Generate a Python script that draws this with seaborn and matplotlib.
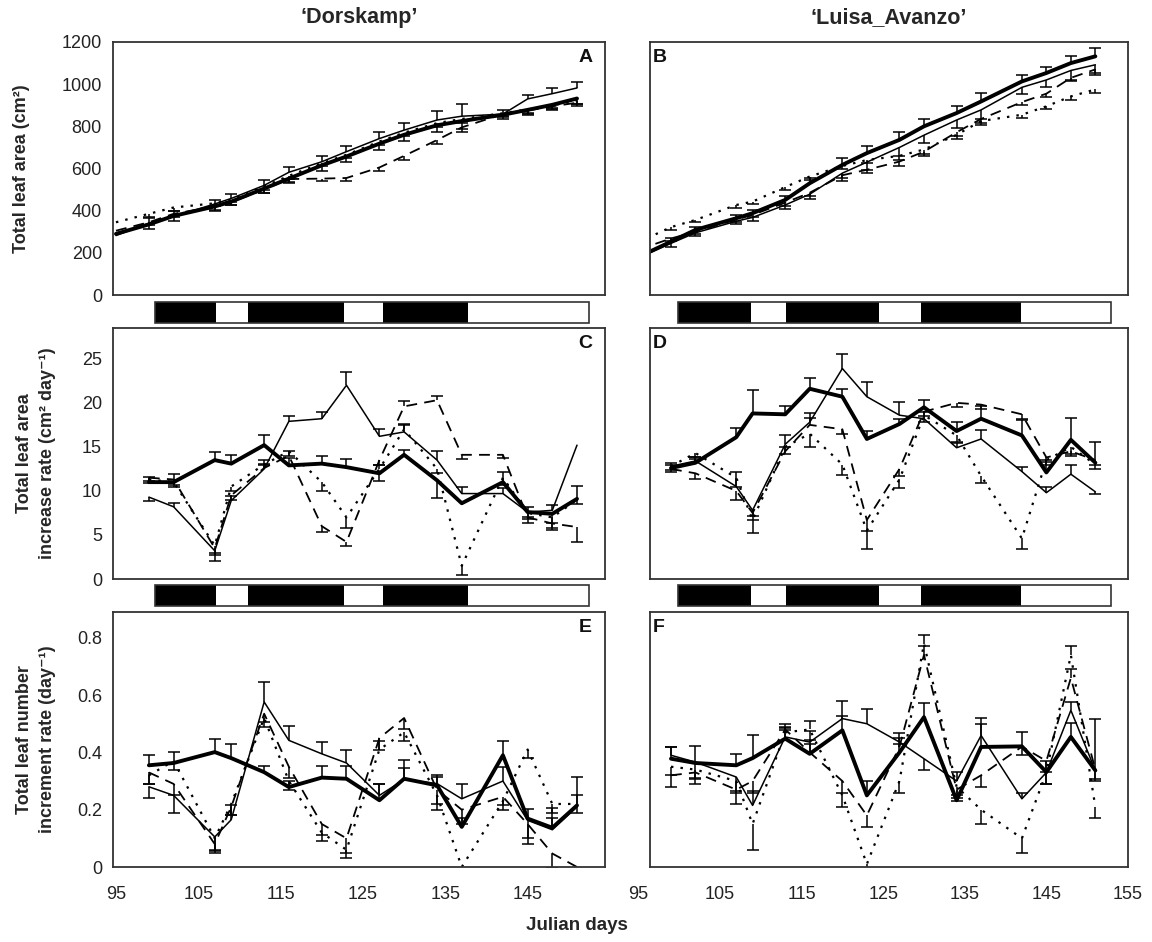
import matplotlib
matplotlib.use("Agg")
import matplotlib.pyplot as plt
import seaborn as sns
import numpy as np
from matplotlib.patches import Rectangle
from matplotlib.transforms import blended_transform_factory

# ---------------- data ----------------
days_area = [95, 99, 102, 107, 109, 113, 116, 120, 123, 127, 130, 134, 137, 142, 145, 148, 151]
days_rate = [99, 102, 107, 109, 113, 116, 120, 123, 127, 130, 134, 137, 142, 145, 148, 151]

# Panel A  - Dorskamp total leaf area (cm2)
A_thick = [290, 335, 375, 420, 443, 505, 552, 615, 657, 718, 760, 805, 825, 855, 878, 902, 932]
A_thin = [282, 340, 372, 432, 458, 520, 582, 632, 680, 742, 782, 830, 848, 858, 930, 955, 982]
A_dash = [305, 345, 385, 420, 440, 500, 550, 552, 555, 605, 660, 735, 795, 858, 875, 895, 912]
A_dot = [345, 385, 415, 435, 452, 515, 565, 625, 665, 728, 770, 815, 835, 862, 880, 900, 920]
A_thick_err = [0, -20, -25, -20, -18, -20, -22, -25, -25, -28, -30, -30, -40, -20, -22, -25, -28]
A_thin_err = [0, 25, 25, 20, 20, 25, 25, 28, 28, 30, 35, 45, 60, 20, 20, 25, 28]
A_dash_err = [0, -15, -15, -15, -12, -15, -15, -12, -12, -15, -18, -20, -20, -15, -15, -15, -15]
A_dot_err = [0, -15, -15, -12, -12, -15, -15, -15, -15, -15, -18, -18, -18, -15, -15, -15, -15]

# Panel B  - Luisa_Avanzo total leaf area (cm2)
B_thick = [180, 253, 309, 364, 388, 451, 530, 617, 673, 736, 800, 863, 918, 1013, 1053, 1100, 1132]
B_thin = [175, 245, 295, 350, 368, 427, 478, 578, 630, 700, 758, 830, 878, 985, 1020, 1065, 1092]
B_dash = [215, 268, 300, 358, 380, 438, 485, 568, 594, 633, 680, 772, 835, 915, 955, 1030, 1070]
B_dot = [250, 322, 356, 427, 443, 512, 562, 612, 640, 660, 690, 760, 825, 855, 895, 942, 975]
B_thick_err = [0, 15, 15, 15, 15, 20, 25, 35, 35, 35, 35, 35, 40, 30, 30, 35, 40]
B_thin_err = [0, -15, -15, -15, -15, -20, -25, -35, -35, -40, -35, -40, -45, -30, -35, -45, -50]
B_dash_err = [0, -12, -12, -12, -12, -15, -15, -15, -15, -20, -20, -20, -20, -15, -15, -15, -15]
B_dot_err = [0, -12, -12, -12, -12, -12, -15, -15, -15, -20, -20, -20, -20, -15, -15, -15, -15]

# Panel C  - Dorskamp leaf area increase rate (cm2 day-1)
C_thick = [11.0, 11.0, 13.5, 13.1, 15.2, 12.9, 13.1, 12.7, 12.0, 14.1, 11.2, 8.6, 11.0, 7.6, 7.4, 9.1]
C_thin = [9.3, 8.2, 3.2, 8.9, 12.5, 17.9, 18.2, 22.0, 16.2, 16.7, 13.5, 9.7, 9.7, 7.6, 7.8, 15.2]
C_dash = [11.5, 11.3, 3.5, 9.5, 12.6, 14.0, 6.0, 4.2, 13.5, 19.6, 20.3, 14.1, 14.1, 7.0, 6.3, 5.9]
C_dot = [11.3, 11.0, 3.8, 10.5, 13.0, 14.5, 11.0, 7.0, 12.5, 17.0, 12.5, 1.5, 11.5, 7.5, 7.0, 9.0]
C_thick_err = [0.6, 0.9, 0.9, 1.0, 1.1, 0.8, 0.9, 0.9, -0.9, 0.6, -2.0, 0.0, 1.1, -0.8, -1.6, 1.5]
C_thin_err = [-0.5, 0.4, -1.1, 0.5, 0.6, 0.6, 0.8, 1.5, 0.8, 0.9, 1.0, 0.8, 0.6, 0.6, 0.6, 0.0]
C_dash_err = [-0.4, -0.6, -0.8, -0.5, 0.4, 0.5, -0.7, -0.5, -0.5, 0.6, 0.5, -0.5, -0.4, -0.6, -0.7, -1.7]
C_dot_err = [-0.4, -0.5, -0.9, -0.5, 0.5, -0.5, -1.0, -1.2, 0.5, 0.5, -0.5, -1.0, -0.8, -0.5, -0.6, -0.5]

# Panel D  - Luisa_Avanzo leaf area increase rate
D_thick = [12.6, 13.2, 16.1, 18.8, 18.7, 21.6, 20.7, 15.9, 17.6, 19.5, 16.8, 18.2, 16.3, 12.1, 15.8, 13.2]
D_thin = [12.8, 13.4, 10.5, 7.8, 15.3, 17.8, 23.9, 20.7, 18.6, 18.2, 14.9, 15.9, 12.2, 9.8, 11.9, 9.9]
D_dash = [12.5, 12.0, 10.0, 7.5, 14.5, 17.5, 17.0, 6.7, 12.5, 19.0, 20.0, 19.8, 18.7, 13.8, 14.5, 13.5]
D_dot = [12.8, 14.3, 11.5, 6.7, 15.0, 16.5, 13.0, 5.5, 11.3, 18.6, 16.3, 11.7, 4.6, 13.5, 15.0, 13.0]
D_thick_err = [0.4, 0.4, 1.1, 2.7, 0.9, 1.2, 0.9, 0.9, 0.6, 0.8, 1.0, 1.5, 1.7, 1.4, 2.5, 2.3]
D_thin_err = [0.4, 0.5, 1.7, -0.7, 1.0, 1.0, 1.7, 1.7, 1.5, 0.8, 0.5, 1.0, 0.5, 0.6, 1.0, -0.3]
D_dash_err = [-0.4, -0.7, -1.0, -0.8, 0.5, 0.8, -0.5, -1.3, -0.8, -0.5, -0.5, -0.5, -0.5, -0.5, -0.5, -0.5]
D_dot_err = [-0.4, -0.5, -1.0, -1.5, -0.8, -1.5, -1.2, -2.1, -1.0, -0.8, -0.8, -0.8, -1.2, -0.6, -0.8, -0.5]

# Panel E  - Dorskamp leaf number increment rate (day-1)
E_thick = [0.355, 0.363, 0.401, 0.38, 0.331, 0.279, 0.312, 0.308, 0.233, 0.308, 0.285, 0.140, 0.390, 0.169, 0.137, 0.215]
E_thin = [0.28, 0.25, 0.105, 0.165, 0.576, 0.442, 0.395, 0.363, 0.25, 0.305, 0.291, 0.238, 0.30, 0.163, 0.13, 0.21]
E_dash = [0.33, 0.29, 0.08, 0.21, 0.535, 0.35, 0.15, 0.10, 0.45, 0.52, 0.27, 0.20, 0.245, 0.15, 0.047, 0.0]
E_dot = [0.32, 0.37, 0.10, 0.22, 0.52, 0.30, 0.12, 0.06, 0.41, 0.47, 0.25, 0.0, 0.23, 0.41, 0.22, 0.22]
E_thick_err = [0.035, 0.04, 0.047, 0.05, 0.02, 0.02, 0.04, 0.046, 0.058, 0.064, 0.03, 0.03, 0.05, -0.09, 0.07, 0.1]
E_thin_err = [-0.04, -0.06, -0.05, 0.05, 0.07, 0.05, 0.04, 0.045, 0.04, 0.04, 0.03, 0.05, 0.05, 0.04, 0.04, 0.04]
E_dash_err = [-0.04, -0.04, -0.03, -0.03, -0.03, -0.04, -0.04, -0.05, -0.04, -0.04, -0.05, -0.05, -0.03, -0.05, -0.05, 0]
E_dot_err = [-0.03, -0.03, -0.04, -0.04, -0.03, -0.03, -0.03, -0.03, 0.03, -0.03, -0.05, 0, -0.03, -0.03, -0.03, -0.03]

# Panel F  - Luisa_Avanzo leaf number increment rate
F_thick = [0.378, 0.363, 0.355, 0.38, 0.448, 0.395, 0.477, 0.25, 0.40, 0.523, 0.233, 0.419, 0.421, 0.331, 0.454, 0.337]
F_thin = [0.39, 0.366, 0.314, 0.215, 0.454, 0.436, 0.518, 0.50, 0.436, 0.378, 0.30, 0.459, 0.238, 0.33, 0.547, 0.337]
F_dash = [0.32, 0.33, 0.27, 0.30, 0.48, 0.40, 0.30, 0.18, 0.42, 0.74, 0.27, 0.32, 0.42, 0.37, 0.66, 0.34]
F_dot = [0.35, 0.34, 0.30, 0.15, 0.47, 0.48, 0.25, 0.01, 0.30, 0.78, 0.28, 0.20, 0.10, 0.33, 0.74, 0.21]
F_thick_err = [0.04, 0.06, 0.04, 0.08, 0.03, 0.05, 0.05, 0.05, 0.03, 0.05, 0.02, 0.1, 0.05, 0.04, 0.05, 0.18]
F_thin_err = [0.03, -0.06, -0.05, 0.05, 0.03, 0.04, 0.06, 0.05, 0.03, -0.04, 0.03, 0.04, 0.02, -0.04, 0.03, -0.03]
F_dash_err = [-0.04, -0.04, -0.05, -0.04, 0.02, 0.03, -0.04, -0.04, 0.03, 0.03, -0.04, -0.04, -0.03, -0.04, 0.03, -0.04]
F_dot_err = [-0.03, -0.03, -0.04, -0.09, 0.02, 0.03, -0.04, -0.04, -0.04, 0.03, -0.04, -0.05, -0.05, -0.04, 0.03, -0.04]

# treatment bars (black / white alternating period boundaries, Julian day)
bar_left = [99.7, 107.2, 111.0, 122.7, 127.4, 137.8, 152.5]
bar_right = [99.8, 108.8, 113.1, 124.4, 129.6, 141.8, 152.9]

titles = ["\u2018Dorskamp\u2019", "\u2018Luisa_Avanzo\u2019"]
letters = ["A", "B", "C", "D", "E", "F"]
ylabels = ["Total leaf area (cm\u00b2)",
           "Total leaf area\nincrease rate (cm\u00b2 day\u207b\u00b9)",
           "Total leaf number\nincrement rate (day\u207b\u00b9)"]
xticks_left = [95, 105, 115, 125, 135, 145]
xticks_right = [105, 115, 125, 135, 145, 155]

# ---------------- styling ----------------
sns.set_theme(style="white")
plt.rcParams["font.family"] = ["Liberation Sans", "DejaVu Sans"]
NARROW = ["Liberation Sans Narrow", "Liberation Sans", "DejaVu Sans"]

STYLES = [dict(lw=2.8, ls="-"), dict(lw=1.1, ls="-"),
          dict(lw=1.3, ls=(0, (6, 4))), dict(lw=1.6, ls=(0, (1.1, 3.2)))]

W, H = 1152, 942
fig = plt.figure(figsize=(W / 100, H / 100), dpi=100)


def fax(x0, y0, x1, y1):
    return fig.add_axes([x0 / W, 1 - y1 / H, (x1 - x0) / W, (y1 - y0) / H])


LX = (113, 605)
RX = (650, 1128)
ROWS = [(42, 295), (328, 579), (612, 867)]
BARS = [(302, 323), (585, 606)]
XL_LEFT = (94.64, 154.4)
XL_RIGHT = (96.43, 154.94)
YLIMS = [(0, 1200), (0, 28.5), (0, 0.89)]
YTICKS = [[0, 200, 400, 600, 800, 1000, 1200], [0, 5, 10, 15, 20, 25], [0, 0.2, 0.4, 0.6, 0.8]]
YTICKLABELS = [["0", "200", "400", "600", "800", "1000", "1200"],
               ["0", "5", "10", "15", "20", "25"],
               ["0", "0.2", "0.4", "0.6", "0.8"]]


def draw(ax, days, series, errs):
    for vals, err, st in zip(series, errs, STYLES):
        sns.lineplot(x=days, y=vals, ax=ax, color="black", linewidth=st["lw"],
                     linestyle=st["ls"], estimator=None, sort=False, legend=False)
        d = np.asarray(days, float)
        v = np.asarray(vals, float)
        e = np.asarray(err, float)
        for sign in (1, -1):
            m = (e * sign) > 0
            if not m.any():
                continue
            mag = np.abs(e[m])
            z = np.zeros_like(mag)
            yerr = [z, mag] if sign > 0 else [mag, z]
            cont = ax.errorbar(d[m], v[m], yerr=yerr, fmt="none", ecolor="black",
                               elinewidth=1.1, capsize=4.5, capthick=1.1)
            caps = cont[1]
            if len(caps) == 2:
                caps[0 if sign > 0 else 1].set_visible(False)


def style_axis(ax, row, right):
    ax.set_xlim(*(XL_RIGHT if right else XL_LEFT))
    ax.set_ylim(*YLIMS[row])
    ax.set_yticks(YTICKS[row])
    if right:
        ax.set_yticklabels([])
    else:
        ax.set_yticklabels(YTICKLABELS[row], fontsize=13, color="#222")
    ax.set_xticks(xticks_right if right else xticks_left)
    if row == 2:
        ax.set_xticklabels([str(t) for t in (xticks_right if right else xticks_left)],
                           fontsize=13, color="#222")
    else:
        ax.set_xticklabels([])
    ax.tick_params(axis="y", length=0, pad=8)
    ax.tick_params(axis="x", direction="in", length=3, color="#999", pad=14)
    for s in ax.spines.values():
        s.set_visible(True)
        s.set_color("#333")
        s.set_linewidth(1.3)
    ax.set_xlabel("")
    ax.set_ylabel("")
    ax.grid(False)


def draw_bar(ax, bounds, xl):
    ax.set_xlim(*xl)
    ax.set_ylim(0, 1)
    ax.axis("off")
    for i in range(len(bounds) - 1):
        ax.barh(0.5, bounds[i + 1] - bounds[i], left=bounds[i], height=1,
                color="black" if i % 2 == 0 else "white", edgecolor="none", clip_on=False)
    ax.add_patch(Rectangle((bounds[0], 0), bounds[-1] - bounds[0], 1, fill=False,
                           ec="#333", lw=1.2, clip_on=False))


panels = [
    (0, False, days_area, [A_thick, A_thin, A_dash, A_dot], [A_thick_err, A_thin_err, A_dash_err, A_dot_err]),
    (0, True, days_area, [B_thick, B_thin, B_dash, B_dot], [B_thick_err, B_thin_err, B_dash_err, B_dot_err]),
    (1, False, days_rate, [C_thick, C_thin, C_dash, C_dot], [C_thick_err, C_thin_err, C_dash_err, C_dot_err]),
    (1, True, days_rate, [D_thick, D_thin, D_dash, D_dot], [D_thick_err, D_thin_err, D_dash_err, D_dot_err]),
    (2, False, days_rate, [E_thick, E_thin, E_dash, E_dot], [E_thick_err, E_thin_err, E_dash_err, E_dot_err]),
    (2, True, days_rate, [F_thick, F_thin, F_dash, F_dot], [F_thick_err, F_thin_err, F_dash_err, F_dot_err]),
]

for k, (row, right, days, series, errs) in enumerate(panels):
    x0, x1 = RX if right else LX
    y0, y1 = ROWS[row]
    ax = fax(x0, y0, x1, y1)
    draw(ax, days, series, errs)
    style_axis(ax, row, right)
    if right:
        ax.text(0.006, 0.94, letters[k], transform=ax.transAxes, ha="left", va="center",
                fontsize=14, fontweight="bold", color="#111")
    else:
        ax.text(0.974, 0.94, letters[k], transform=ax.transAxes, ha="right", va="center",
                fontsize=14, fontweight="bold", color="#111")
    if row == 2 and right:
        tr = blended_transform_factory(ax.transData, ax.transAxes)
        ax.text(95, -0.076, "95", transform=tr, ha="center", va="top",
                fontsize=13, color="#222", clip_on=False)

for (by0, by1) in BARS:
    draw_bar(fax(LX[0], by0, LX[1], by1), bar_left, XL_LEFT)
    draw_bar(fax(RX[0], by0, RX[1], by1), bar_right, XL_RIGHT)

# titles
fig.text((LX[0] + LX[1]) / 2 / W, 1 - 18 / H, titles[0], ha="center", va="center",
         fontsize=15.5, fontweight="bold")
fig.text((RX[0] + RX[1]) / 2 / W, 1 - 18 / H, titles[1], ha="center", va="center",
         fontsize=15.5, fontweight="bold")

# y labels
fig.text(22 / W, 1 - (ROWS[0][0] + ROWS[0][1]) / 2 / H, ylabels[0], rotation=90,
         ha="center", va="center", fontsize=13, fontweight="bold", family=NARROW)
for row in (1, 2):
    fig.text(36 / W, 1 - (ROWS[row][0] + ROWS[row][1]) / 2 / H, ylabels[row], rotation=90,
             ha="center", va="center", fontsize=13, fontweight="bold", family=NARROW,
             multialignment="center", linespacing=1.45)

fig.text(577 / W, 1 - 926 / H, "Julian days", ha="center", va="center",
         fontsize=13.5, fontweight="bold", family=NARROW)

fig.savefig("out.png", dpi=100, facecolor="white")
